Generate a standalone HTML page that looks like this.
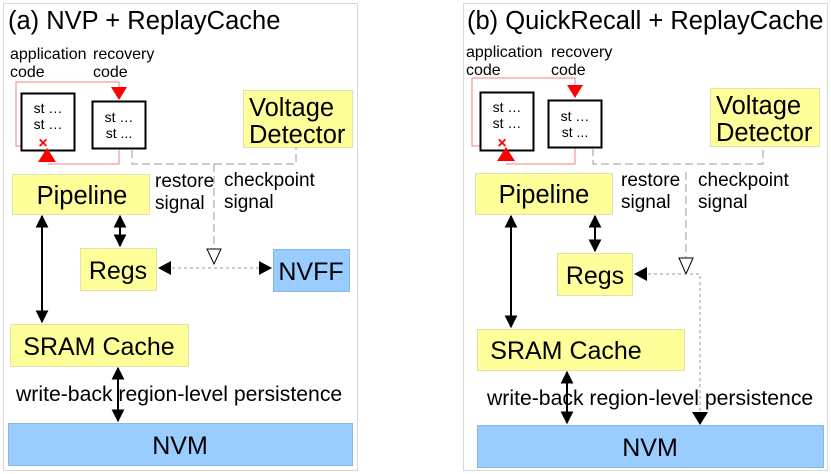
<!DOCTYPE html>
<html><head><style>
body{margin:0;background:#fff}
svg{display:block}
text{font-family:"Liberation Sans",sans-serif;fill:#000}
</style></head><body>
<svg width="831" height="474" viewBox="0 0 831 474" xmlns="http://www.w3.org/2000/svg">
<defs>
<marker id="ah" viewBox="0 0 10 10" refX="9" refY="5" markerWidth="6.5" markerHeight="6.5" orient="auto-start-reverse"><path d="M0,0L10,5L0,10z" fill="#000"/></marker>
</defs>
<g id="a">
<rect x="3.5" y="3.5" width="354" height="467" fill="none" stroke="#d8d8d8"/>
<text x="8" y="29" font-size="25.5">(a) NVP + ReplayCache</text>
<text x="10" y="59" font-size="16">application</text><text x="10" y="77" font-size="16">code</text>
<text x="93" y="59" font-size="16">recovery</text><text x="93" y="77" font-size="16">code</text>
<polyline points="40,146 16,146 16,82 119,82 119,90" fill="none" stroke="#f08080" stroke-width="1"/>
<polyline points="119,150 119,164 48,164" fill="none" stroke="#f08080" stroke-width="1"/>
<rect x="21.5" y="93.5" width="53" height="57" fill="#fff" stroke="#000" stroke-width="2"/>
<rect x="92.5" y="101.5" width="53" height="47" fill="#fff" stroke="#000" stroke-width="2"/>
<text x="48" y="113" font-size="14" text-anchor="middle">st …</text><text x="48" y="129" font-size="14" text-anchor="middle">st …</text>
<text x="119" y="122" font-size="14" text-anchor="middle">st …</text><text x="119" y="138" font-size="14" text-anchor="middle">st ...</text>
<path d="M111,87L127,87L119,100z" fill="#f00"/>
<path d="M38,162L56,162L47,148z" fill="#f00"/>
<text x="43" y="148" font-size="16" text-anchor="middle" style="fill:#f00;font-weight:bold">×</text>
<rect x="243.5" y="90.5" width="109" height="57" fill="#ffff99" stroke="#e0e0b0"/>
<text x="249" y="116" font-size="25.5">Voltage</text><text x="249" y="143" font-size="25.5">Detector</text>
<polyline points="132,150 132,164 296,164 296,147" fill="none" stroke="#999" stroke-dasharray="8,4"/>
<line x1="214" y1="164" x2="214" y2="249" stroke="#999" stroke-dasharray="8,4"/>
<path d="M207,249L221,249L214,264z" fill="#fff" stroke="#000"/>
<rect x="12.5" y="174.5" width="137" height="40" fill="#ffff99" stroke="#e0e0b0"/>
<text x="82" y="204" font-size="25.5" text-anchor="middle">Pipeline</text>
<text x="155" y="187" font-size="19">restore</text><text x="155" y="209" font-size="19">signal</text>
<text x="224" y="186" font-size="19">checkpoint</text><text x="224" y="208" font-size="19">signal</text>
<rect x="80.5" y="248.5" width="76" height="42" fill="#ffff99" stroke="#e0e0b0"/>
<text x="118" y="279" font-size="25" text-anchor="middle">Regs</text>
<rect x="273.5" y="249.5" width="76" height="42" fill="#99ccff" stroke="#88b8e0"/>
<text x="311" y="280" font-size="25" text-anchor="middle">NVFF</text>
<line x1="160" y1="268" x2="271" y2="268" stroke="#999" stroke-dasharray="3,3"/>
<path d="M158,268L171,261L171,275z" fill="#000"/>
<path d="M272,268L259,261L259,275z" fill="#000"/>
<line x1="120" y1="216" x2="120" y2="246" stroke="#000" stroke-width="2" marker-start="url(#ah)" marker-end="url(#ah)"/>
<line x1="42" y1="216" x2="42" y2="322" stroke="#000" stroke-width="2" marker-start="url(#ah)" marker-end="url(#ah)"/>
<rect x="10.5" y="324.5" width="178" height="42" fill="#ffff99" stroke="#e0e0b0"/>
<text x="99" y="355" font-size="25" text-anchor="middle">SRAM Cache</text>
<text x="16" y="401" font-size="21.2">write-back region-level persistence</text>
<line x1="118" y1="368" x2="118" y2="421" stroke="#000" stroke-width="2" marker-start="url(#ah)" marker-end="url(#ah)"/>
<rect x="8.5" y="423.5" width="344" height="42" fill="#99ccff" stroke="#88b8e0"/>
<text x="180" y="454" font-size="25" text-anchor="middle">NVM</text>
</g>
<g id="b">
<rect x="463.5" y="3.5" width="364" height="467" fill="none" stroke="#d8d8d8"/>
<text x="467" y="29" font-size="25.5">(b) QuickRecall + ReplayCache</text>
<text x="466" y="57" font-size="16">application</text><text x="466" y="75" font-size="16">code</text>
<text x="551" y="57" font-size="16">recovery</text><text x="551" y="75" font-size="16">code</text>
<polyline points="500,146 472,146 472,78 575,78 575,86" fill="none" stroke="#f08080"/>
<polyline points="575,148 575,164 506,164" fill="none" stroke="#f08080"/>
<rect x="480.5" y="92.5" width="53" height="58" fill="#fff" stroke="#000" stroke-width="2"/>
<rect x="548.5" y="100.5" width="53" height="47" fill="#fff" stroke="#000" stroke-width="2"/>
<text x="507" y="112" font-size="14" text-anchor="middle">st …</text><text x="507" y="128" font-size="14" text-anchor="middle">st …</text>
<text x="575" y="121" font-size="14" text-anchor="middle">st …</text><text x="575" y="137" font-size="14" text-anchor="middle">st ...</text>
<path d="M567,85L583,85L575,98z" fill="#f00"/>
<path d="M497,161L515,161L506,147z" fill="#f00"/>
<text x="502" y="148" font-size="16" text-anchor="middle" style="fill:#f00;font-weight:bold">×</text>
<rect x="710.5" y="88.5" width="109" height="58" fill="#ffff99" stroke="#e0e0b0"/>
<text x="716" y="114" font-size="25.5">Voltage</text><text x="716" y="141" font-size="25.5">Detector</text>
<polyline points="593,148 593,164 763,164 763,147" fill="none" stroke="#999" stroke-dasharray="8,4"/>
<line x1="686" y1="172" x2="686" y2="258" stroke="#999" stroke-dasharray="8,4"/>
<path d="M679,258L693,258L686,274z" fill="#fff" stroke="#000"/>
<rect x="475.5" y="173.5" width="137" height="41" fill="#ffff99" stroke="#e0e0b0"/>
<text x="544" y="203" font-size="25.5" text-anchor="middle">Pipeline</text>
<text x="621" y="186" font-size="19">restore</text><text x="621" y="208" font-size="19">signal</text>
<text x="698" y="186" font-size="19">checkpoint</text><text x="698" y="208" font-size="19">signal</text>
<rect x="557.5" y="253.5" width="75" height="42" fill="#ffff99" stroke="#e0e0b0"/>
<text x="595" y="284" font-size="25" text-anchor="middle">Regs</text>
<polyline points="636,274 700,274 700,414" fill="none" stroke="#999" stroke-dasharray="3,3"/>
<path d="M634,274L647,267L647,281z" fill="#000"/>
<path d="M700,425L692,412L708,412z" fill="#000"/>
<line x1="595" y1="216" x2="595" y2="251" stroke="#000" stroke-width="2" marker-start="url(#ah)" marker-end="url(#ah)"/>
<line x1="511" y1="216" x2="511" y2="327" stroke="#000" stroke-width="2" marker-start="url(#ah)" marker-end="url(#ah)"/>
<rect x="477.5" y="329.5" width="207" height="41" fill="#ffff99" stroke="#e0e0b0"/>
<text x="566" y="359" font-size="25" text-anchor="middle">SRAM Cache</text>
<text x="487" y="405" font-size="21.2">write-back region-level persistence</text>
<line x1="567" y1="372" x2="567" y2="423" stroke="#000" stroke-width="2" marker-start="url(#ah)" marker-end="url(#ah)"/>
<rect x="477.5" y="425.5" width="346" height="42" fill="#99ccff" stroke="#88b8e0"/>
<text x="650" y="456" font-size="25" text-anchor="middle">NVM</text>
</g>
</svg>
</body></html>
